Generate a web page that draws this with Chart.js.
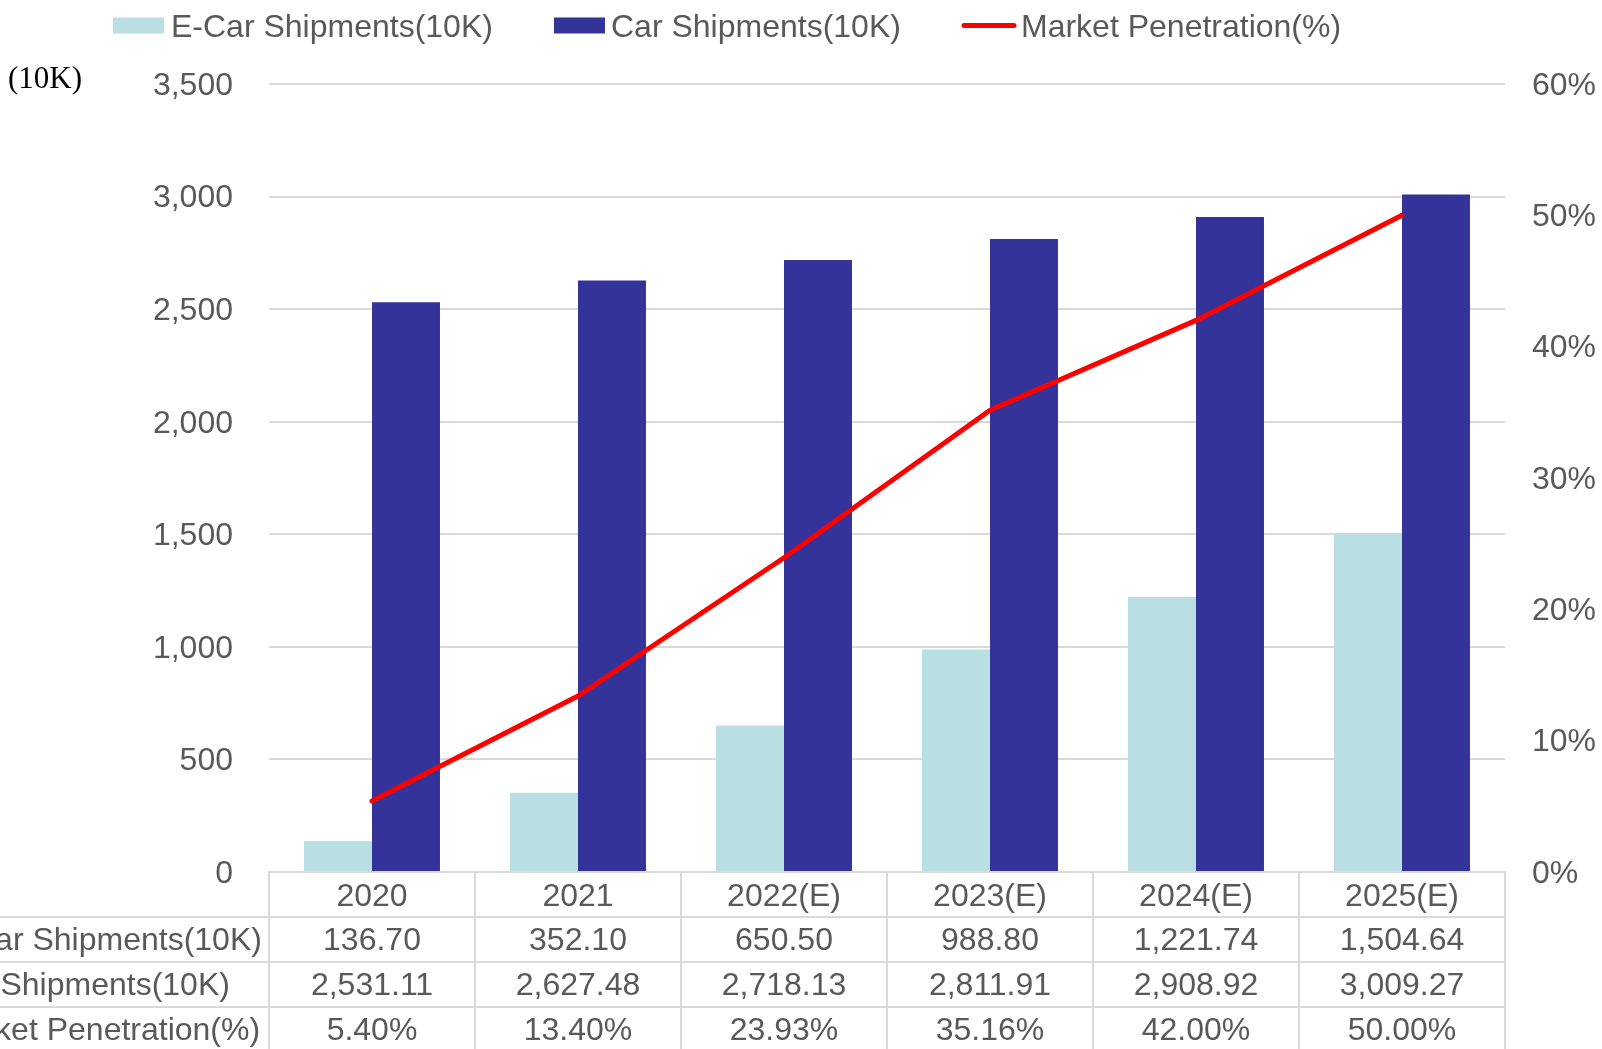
<!DOCTYPE html>
<html>
<head>
<meta charset="utf-8">
<script src="https://cdn.jsdelivr.net/npm/chart.js@4/dist/chart.umd.min.js"></script>
<style>
  html, body { margin: 0; padding: 0; background: #fff; overflow: hidden; }
  #wrap { position: relative; width: 1602px; height: 1049px; }
</style>
</head>
<body>
<div id="wrap"><canvas id="chart" width="1602" height="1049"></canvas></div>
<script>
// datos
const years = ['2020', '2021', '2022(E)', '2023(E)', '2024(E)', '2025(E)'];
const eCarShipments = [136.70, 352.10, 650.50, 988.80, 1221.74, 1504.64];
const carShipments = [2531.11, 2627.48, 2718.13, 2811.91, 2908.92, 3009.27];
const penetration = [5.40, 13.40, 23.93, 35.16, 42.00, 50.00];

const seriesNames = ['E-Car Shipments(10K)', 'Car Shipments(10K)', 'Market Penetration(%)'];
const leftTicks = [0, 500, 1000, 1500, 2000, 2500, 3000, 3500];
const rightTicks = [0, 10, 20, 30, 40, 50, 60];

const FONT = '"Liberation Sans", Arial, sans-serif';
const TEXT = '#595959';
const GRID = '#d9d9d9';
const COL_ECAR = '#b9dfe2';
const COL_CAR = '#343399';
const COL_LINE = '#ff0000';

Chart.defaults.font.family = FONT;
Chart.defaults.font.size = 32;
Chart.defaults.color = TEXT;

const fmt2 = v => v.toLocaleString('en-US', { minimumFractionDigits: 2, maximumFractionDigits: 2 });

// leyenda, unidad y tabla de datos debajo del eje
const tablePlugin = {
  id: 'dataTable',
  afterDraw(chart) {
    const ctx = chart.ctx;
    const xs = chart.scales.x;
    const top = chart.chartArea.bottom;
    const rowH = 45;
    const n = years.length;
    const step = (xs.right - xs.left) / n;
    const bottom = chart.height;

    ctx.save();
    ctx.strokeStyle = GRID;
    ctx.lineWidth = 2;
    // lineas horizontales de las filas
    for (let r = 1; r <= 3; r++) {
      const y = top + rowH * r;
      ctx.beginPath();
      ctx.moveTo(0, y);
      ctx.lineTo(xs.right, y);
      ctx.stroke();
    }
    // lineas verticales
    for (let i = 0; i <= n; i++) {
      const x = xs.left + step * i;
      ctx.beginPath();
      ctx.moveTo(x, top);
      ctx.lineTo(x, bottom);
      ctx.stroke();
    }

    ctx.font = '32px ' + FONT;
    ctx.fillStyle = TEXT;
    ctx.textBaseline = 'middle';
    const rows = [
      eCarShipments.map(fmt2),
      carShipments.map(fmt2),
      penetration.map(v => v.toFixed(2) + '%')
    ];
    rows.forEach((vals, r) => {
      const y = top + rowH * (r + 1) + rowH / 2 + 2;
      ctx.textAlign = 'left';
      ctx.fillText(seriesNames[r], -60, y);
      ctx.textAlign = 'center';
      vals.forEach((v, i) => ctx.fillText(v, xs.getPixelForValue(i), y));
    });

    // unidad del eje izquierdo
    ctx.font = '31px "Liberation Serif", "Times New Roman", serif';
    ctx.fillStyle = '#000';
    ctx.textAlign = 'left';
    ctx.fillText('(10K)', 8, 80);

    // leyenda
    ctx.font = '32px ' + FONT;
    const ly = 25.5;
    const ty = ly + 3;
    let x = 113;
    ctx.fillStyle = COL_ECAR;
    ctx.fillRect(x, ly - 8, 51, 16);
    ctx.fillStyle = TEXT;
    ctx.fillText(seriesNames[0], x + 58, ty);
    x = 554;
    ctx.fillStyle = COL_CAR;
    ctx.fillRect(x, ly - 8, 51, 16);
    ctx.fillStyle = TEXT;
    ctx.fillText(seriesNames[1], x + 57, ty);
    x = 962;
    ctx.strokeStyle = COL_LINE;
    ctx.lineWidth = 5;
    ctx.lineCap = 'round';
    ctx.beginPath();
    ctx.moveTo(x + 2, ly);
    ctx.lineTo(x + 52, ly);
    ctx.stroke();
    ctx.fillText(seriesNames[2], x + 59, ty);
    ctx.restore();
  }
};

new Chart(document.getElementById('chart'), {
  type: 'bar',
  data: {
    labels: years,
    datasets: [
      {
        label: seriesNames[0],
        data: eCarShipments,
        backgroundColor: COL_ECAR,
        borderWidth: 0,
        categoryPercentage: 0.66,
        barPercentage: 1,
        yAxisID: 'y',
        order: 1
      },
      {
        label: seriesNames[1],
        data: carShipments,
        backgroundColor: COL_CAR,
        borderWidth: 0,
        categoryPercentage: 0.66,
        barPercentage: 1,
        yAxisID: 'y',
        order: 1
      },
      {
        type: 'line',
        label: seriesNames[2],
        data: penetration,
        borderColor: COL_LINE,
        backgroundColor: COL_LINE,
        borderWidth: 5,
        borderCapStyle: 'round',
        borderJoinStyle: 'round',
        pointRadius: 0,
        tension: 0,
        yAxisID: 'y1',
        order: 0
      }
    ]
  },
  options: {
    responsive: false,
    animation: false,
    devicePixelRatio: 1,
    layout: { padding: { top: 84, left: 0, right: 0, bottom: 0 } },
    plugins: {
      legend: { display: false },
      tooltip: { enabled: false }
    },
    scales: {
      x: {
        grid: { display: false, drawTicks: false },
        border: { display: true, color: GRID, width: 2 },
        ticks: { padding: 6, color: TEXT, maxRotation: 0 },
        afterFit(scale) { scale.height = 177; }
      },
      y: {
        position: 'left',
        min: 0,
        max: 3500,
        afterBuildTicks(scale) { scale.ticks = leftTicks.map(v => ({ value: v })); },
        grid: { color: GRID, lineWidth: 2, drawTicks: false },
        border: { display: false },
        ticks: { padding: 36, color: TEXT, labelOffset: 2 },
        afterFit(scale) { scale.width = 269; }
      },
      y1: {
        position: 'right',
        min: 0,
        max: 60,
        afterBuildTicks(scale) { scale.ticks = rightTicks.map(v => ({ value: v })); },
        grid: { display: false, drawTicks: false },
        border: { display: false },
        ticks: { padding: 27, color: TEXT, labelOffset: 2, callback: v => v + '%' },
        afterFit(scale) { scale.width = 97; }
      }
    }
  },
  plugins: [tablePlugin]
});
</script>
</body>
</html>
